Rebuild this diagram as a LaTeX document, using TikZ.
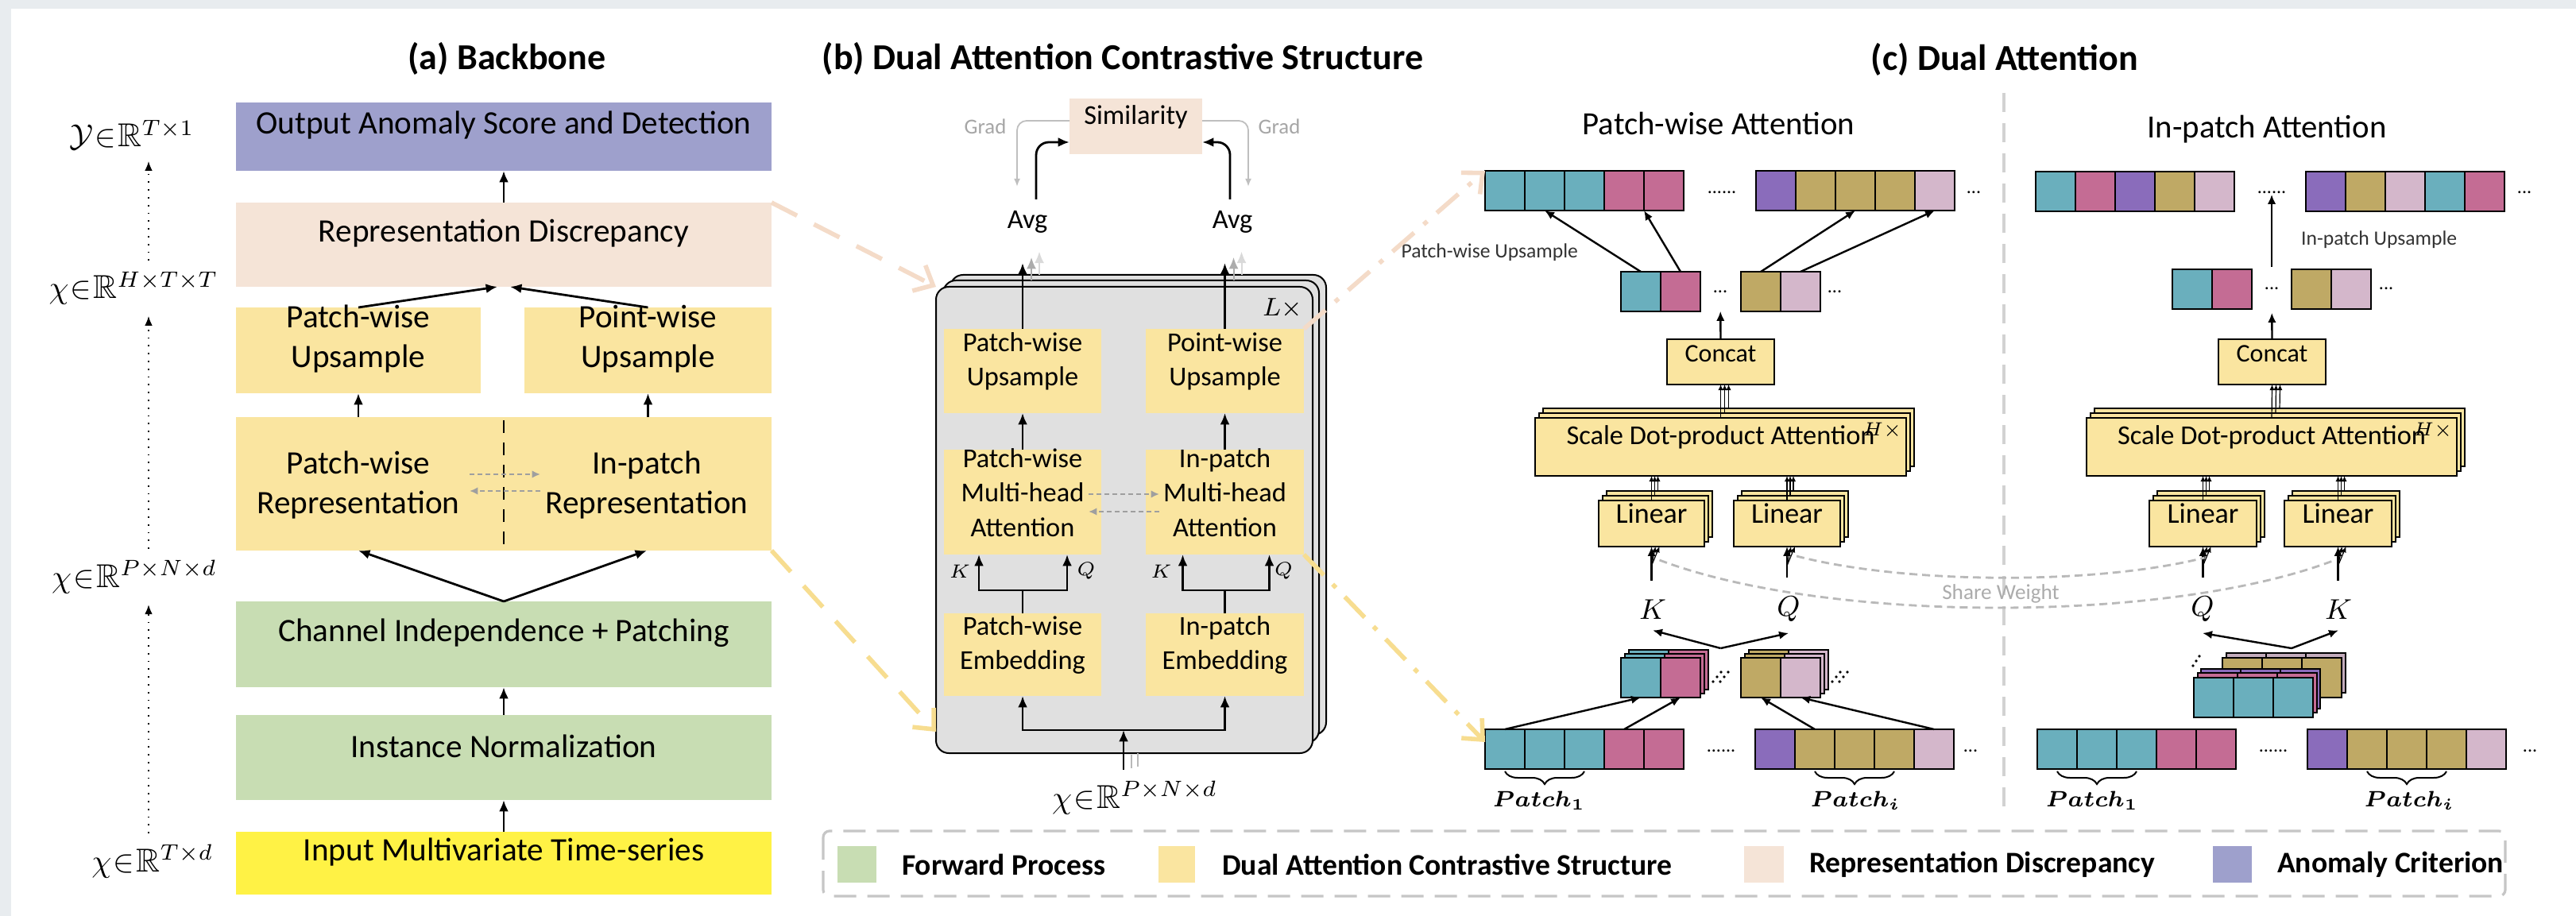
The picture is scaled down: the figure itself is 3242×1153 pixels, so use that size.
\documentclass[tikz,border=0pt]{standalone}
\usepackage{fontspec}
\setmainfont{Carlito}
\usepackage{amsmath}
\usepackage{amssymb}
\usetikzlibrary{positioning,fit,calc,arrows.meta,decorations.pathreplacing}

% palette
\definecolor{fwdgreen}{HTML}{C8DDB3}
\definecolor{dacsyellow}{HTML}{FAE5A0}
\definecolor{discpeach}{HTML}{F5E4D7}
\definecolor{critblue}{HTML}{9EA0CC}
\definecolor{inyellow}{HTML}{FFF245}
\definecolor{layergray}{HTML}{E0E0E0}
\definecolor{framegray}{HTML}{E8ECEF}
\definecolor{cteal}{HTML}{6AAFBD}
\definecolor{cpink}{HTML}{C46C94}
\definecolor{cpurple}{HTML}{8A6CBB}
\definecolor{colive}{HTML}{BFA965}
\definecolor{clilac}{HTML}{D4B7CB}
\definecolor{peachline}{HTML}{F4DBC8}
\definecolor{yellowline}{HTML}{F7DD90}

% fonts
\newcommand{\ttlfont}{\fontsize{11.5}{13}\selectfont\bfseries}
\newcommand{\subfont}{\fontsize{10.2}{12}\selectfont}
\newcommand{\bbfont}{\fontsize{10.3}{12.5}\selectfont}
\newcommand{\dafont}{\fontsize{8.6}{10.8}\selectfont}
\newcommand{\gradfont}{\fontsize{6.7}{8}\selectfont}
\newcommand{\lblfont}{\fontsize{10.4}{12}\selectfont}
\newcommand{\kqsmall}{\fontsize{6.5}{7}\selectfont}
\newcommand{\kqfont}{\fontsize{9}{10}\selectfont}
\newcommand{\upfont}{\fontsize{6.4}{7.5}\selectfont}
\newcommand{\ccfont}{\fontsize{8}{9}\selectfont}
\newcommand{\sdfont}{\fontsize{8.6}{10}\selectfont}
\newcommand{\linfont}{\fontsize{9}{10}\selectfont}
\newcommand{\hxfont}{\fontsize{5.6}{6}\selectfont}
\newcommand{\swfont}{\fontsize{6.8}{8}\selectfont}
\newcommand{\patchfont}{\fontsize{7.2}{8}\selectfont}
\newcommand{\legfont}{\fontsize{9.4}{11}\selectfont\bfseries}
\newcommand{\elpsfont}{\fontsize{6}{6}\selectfont}
% tensor shape labels, set tight
\newcommand{\shp}[2]{$#1\mskip1mu{\in}\mskip1mu\mathbb{R}^{#2}$}

\tikzset{px/.style={x=0.25pt, y=-0.25pt}}
\tikzset{blk/.style={inner sep=0pt, outer sep=0pt, align=center}}
\tikzset{bbox/.style={blk, font=\bbfont}}
\tikzset{dbox/.style={blk, fill=dacsyellow, font=\dafont}}
\tikzset{cbox/.style={blk, draw, line width=0.6pt, fill=dacsyellow}}
\tikzset{layerbox/.style={blk, draw, line width=0.5pt, fill=layergray, rounded corners=4pt}}
\tikzset{pcell/.style={draw, line width=0.5pt, inner sep=0pt, outer sep=0pt, minimum width=12.5pt, minimum height=12.5pt}}
\tikzset{arr/.style={draw, line width=0.7pt, -{Latex[length=3.6pt,width=3pt]}}}
\tikzset{arr2/.style={draw, line width=0.6pt, -{Latex[length=3pt,width=2.6pt]}}}
\tikzset{thinarr/.style={draw, line width=0.3pt, -{Latex[length=1.8pt,width=1.6pt]}}}
\tikzset{dotarr/.style={draw, line width=0.45pt, dotted, -{Latex[length=3pt,width=2.4pt]}}}
\tikzset{swaparr/.style={draw, gray!75, line width=0.6pt, dash pattern=on 1.6pt off 0.9pt, -{Latex[length=2.6pt,width=2.4pt]}}}
\tikzset{gradarr/.style={draw, gray!50, line width=0.45pt, rounded corners=3pt, -{Latex[length=2.5pt,width=2pt]}}}
\tikzset{zoomarr/.style={draw, line width=1.4pt, dash pattern=on 9pt off 6pt, -{Straight Barb[length=5pt,width=9pt]}}}
\tikzset{zoomarr2/.style={draw, line width=1.4pt, dash pattern=on 9pt off 4pt on 1.5pt off 4pt, -{Straight Barb[length=5pt,width=9pt]}}}
\tikzset{elps/.style={inner sep=0pt, font=\elpsfont}}
\tikzset{brc/.style={decorate, decoration={brace, mirror, amplitude=4pt}, line width=0.5pt}}
\tikzset{shareline/.style={draw, gray!55, line width=0.7pt, dash pattern=on 2.5pt off 1.5pt}}
\tikzset{headcount/.style={font=\hxfont, inner sep=0.5pt, anchor=north east}}

% one row of coloured cells, named <name>-0, <name>-1, ...
\newcommand{\cellrow}[4]{%
  \foreach \c [count=\i from 0] in {#4}
    \node[pcell, fill=\c, anchor=north west] (#1-\i) at ({#2+50*\i}, #3) {};
}
% three stacked boxes, the front one named #1
\newcommand{\stackbox}[7]{%
  \node[cbox, fit={(#2+10,#3-12) (#4+10,#5-12)}] (#1-3) {};
  \node[cbox, fit={(#2+5,#3-6) (#4+5,#5-6)}] (#1-2) {};
  \node[cbox, fit={(#2,#3) (#4,#5)}, #6] (#1) {#7};
}
% small diagonal dots behind a stack
\newcommand{\stackdots}[2]{%
  \foreach \r in {0,1}
    \foreach \s in {0,1,2}
      \fill ({#1+9*\r+5*\s}, {#2-6*\s}) circle (0.45pt);
}

\begin{document}
\begin{tikzpicture}[px]
\useasboundingbox (0,0) rectangle (3242,1153);
\fill[framegray] (0,0) rectangle (3242,1153);
\fill[white] (14,11) rectangle (3242,1153);

%% (a) backbone
\node[font=\ttlfont] (ttla) at (638,74) {(a) Backbone};
\node[bbox, fill=critblue, fit={(297,129) (971,215)}] (out) {Output Anomaly Score and Detection};
\node[bbox, fill=discpeach, fit={(297,255) (971,361)}] (disc) {Representation Discrepancy};
\node[bbox, fill=dacsyellow, fit={(297,387) (605,495)}] (pwup) {Patch-wise\\Upsample};
\node[bbox, fill=dacsyellow, fit={(660,387) (971,495)}] (ptup) {Point-wise\\Upsample};
\node[bbox, fill=dacsyellow, fit={(297,525) (971,693)}] (rep) {};
\node[bbox] (pwrep) at (451,611) {Patch-wise\\Representation};
\node[bbox] (iprep) at (814,611) {In-patch\\Representation};
\node[bbox, fill=fwdgreen, fit={(297,757) (971,865)}] (cip) {Channel Independence + Patching};
\node[bbox, fill=fwdgreen, fit={(297,900) (971,1007)}] (inorm) {Instance Normalization};
\node[bbox, fill=inyellow, fit={(297,1047) (971,1126)}] (inp) {Input Multivariate Time-series};
%
\draw[arr] (disc.north) -- (out.south);
\draw[arr] (pwup.north) -- ([xshift=-2pt]disc.south);
\draw[arr] (ptup.north) -- ([xshift=2pt]disc.south);
\draw[arr] (pwup.south |- rep.north) -- (pwup.south);
\draw[arr] (ptup.south |- rep.north) -- (ptup.south);
\draw[line width=0.7pt, dash pattern=on 4pt off 3pt] ([yshift=-1pt]rep.north) -- ([yshift=1.5pt]rep.south);
\draw[swaparr] ($(rep.center)+(-43,-12)$) -- ($(rep.center)+(46,-12)$);
\draw[swaparr] ($(rep.center)+(46,9)$) -- ($(rep.center)+(-43,9)$);
\draw[arr] (cip.north) -- (rep.south -| pwrep);
\draw[arr] (cip.north) -- (rep.south -| iprep);
\draw[arr] (inorm.north) -- (cip.south);
\draw[arr] (inp.north) -- (inorm.south);
% shapes on the left
\node[font=\lblfont] (ly) at (166,170) {\shp{\mathcal{Y}}{T{\times}1}};
\node[font=\lblfont] (lh) at (168,363) {\shp{\chi}{H{\times}T{\times}T}};
\node[font=\lblfont] (lp) at (169,726) {\shp{\chi}{P{\times}N{\times}d}};
\node[font=\lblfont] (lt) at (192,1084) {\shp{\chi}{T{\times}d}};
\coordinate (axis) at (187,0);
\draw[dotarr] (axis |- lt.north) -- (axis |- lp.south);
\draw[dotarr] (axis |- lp.north) -- (axis |- lh.south);
\draw[dotarr] (axis |- lh.north) -- (axis |- ly.south);

%% (b) dual attention contrastive structure
\node[font=\ttlfont] (ttlb) at (1413,74) {(b) Dual Attention Contrastive Structure};
\node[blk, fill=discpeach, font=\dafont, fit={(1346,124) (1513,194)}] (sim) {Similarity};
\node[font=\dafont] (avgl) at (1293,279) {Avg};
\node[font=\dafont] (avgr) at (1551,279) {Avg};
\node[font=\gradfont, text=gray!70] (gradl) at (1240,159) {Grad};
\node[font=\gradfont, text=gray!70] (gradr) at (1610,159) {Grad};
\draw[gradarr, shorten >=4pt] ([yshift=1.75pt]sim.west) -| ([xshift=-3.25pt]avgl.north);
\draw[gradarr, shorten >=4pt] ([yshift=1.75pt]sim.east) -| ([xshift=5pt]avgr.north);
\draw[arr, rounded corners=4pt] ([xshift=2.75pt]avgl.north) |- ([yshift=-5pt]sim.west);
\draw[arr, rounded corners=4pt] ([xshift=-0.75pt]avgr.north) |- ([yshift=-5pt]sim.east);
% L stacked layers
\node[layerbox, fit={(1196,346) (1669,925)}] (layer3) {};
\node[layerbox, fit={(1187,353) (1660,935)}] (layer2) {};
\node[layerbox, fit={(1178,361) (1652,948)}] (layer) {};
\node[font=\fontsize{8.5}{9}\selectfont] (lrep) at (1614,388) {$L\times$};
\node[dbox, fit={(1188,414) (1386,520)}] (bpwup) {Patch-wise\\Upsample};
\node[dbox, fit={(1442,414) (1641,520)}] (bptup) {Point-wise\\Upsample};
\node[dbox, fit={(1188,566) (1386,698)}] (bpwmha) {Patch-wise\\Multi-head\\Attention};
\node[dbox, fit={(1442,566) (1641,698)}] (bipmha) {In-patch\\Multi-head\\Attention};
\node[dbox, fit={(1188,772) (1386,876)}] (bpwemb) {Patch-wise\\Embedding};
\node[dbox, fit={(1442,772) (1641,876)}] (bipemb) {In-patch\\Embedding};
%
\draw[arr, shorten >=6pt] (bpwup.north) -- (bpwup.north |- avgl.south);
\draw[arr, shorten >=6pt] (bptup.north) -- (bptup.north |- avgr.south);
\foreach \b/\a in {bpwup/avgl, bptup/avgr} {
  \draw[arr, gray!65, line width=0.5pt, shorten >=4.2pt] ($(\b.north |- layer2.north)+(11,0)$) -- ($(\b.north |- \a.south)+(11,0)$);
  \draw[arr, gray!30, line width=0.5pt, shorten >=2.4pt] ($(\b.north |- layer3.north)+(21,0)$) -- ($(\b.north |- \a.south)+(21,0)$);
}
\draw[arr] (bpwmha.north) -- (bpwup.south);
\draw[arr] (bipmha.north) -- (bptup.south);
\draw[swaparr] ($(bpwmha.east)+(-16,-10)$) -- ($(bipmha.west)+(17,-10)$);
\draw[swaparr] ($(bipmha.west)+(17,12)$) -- ($(bpwmha.east)+(-16,12)$);
% K / Q forks
\draw[line width=0.7pt] (bpwemb.north) -- ++(0,-29) coordinate (bpwfork);
\draw[arr] (bpwfork) -| ($(bpwmha.south)+(-55,0)$);
\draw[arr] (bpwfork) -| ($(bpwmha.south)+(56,0)$);
\draw[line width=0.7pt] (bipemb.north) -- ++(0,-29) coordinate (bipfork);
\draw[arr] (bipfork) -| ($(bipmha.south)+(-53,0)$);
\draw[arr] (bipfork) -| ($(bipmha.south)+(56,0)$);
\node[font=\kqsmall] at ($(bpwmha.south)+(-79,21)$) {$K$};
\node[font=\kqsmall] at ($(bpwmha.south)+(80,21)$) {$Q$};
\node[font=\kqsmall] at ($(bipmha.south)+(-80,21)$) {$K$};
\node[font=\kqsmall] at ($(bipmha.south)+(74,21)$) {$Q$};
% input
\node[font=\lblfont] (bxin) at (1428,1004) {\shp{\chi}{P{\times}N{\times}d}};
\coordinate (bfork) at (1414,919);
\draw[arr] ($(bxin.north)+(-14,0)$) -- (bfork);
\draw[line width=0.7pt, {Latex[length=3.6pt,width=3pt]}-{Latex[length=3.6pt,width=3pt]}] (bpwemb.south) |- (bfork) -| (bipemb.south);
\draw[gray!55, line width=0.3pt] ($(bfork)+(10,31)$) -- ++(0,17);
\draw[gray!55, line width=0.3pt] ($(bfork)+(18,29)$) -- ++(0,17);

%% (c) dual attention
\node[font=\ttlfont] (ttlc) at (2523,75) {(c) Dual Attention};
\node[font=\subfont] (pwatt) at (2163,155) {Patch-wise Attention};
\node[font=\subfont] (ipatt) at (2853,163) {In-patch Attention};
\draw[gray!35, line width=0.9pt, dash pattern=on 6pt off 3.5pt] (2522,117) -- (2522,1015);

% patch-wise branch
\cellrow{pta}{1869}{215}{cteal,cteal,cteal,cpink,cpink}
\cellrow{ptb}{2210}{215}{cpurple,colive,colive,colive,clilac}
\node[elps] (ptdots) at (2167,242) {......};
\node[elps] at (2484,242) {...};
\cellrow{pma}{2040}{342}{cteal,cpink}
\cellrow{pmb}{2191}{342}{colive,clilac}
\node[elps] (pmdots) at (2165,367) {...};
\node[elps] at (2309,367) {...};
\draw[arr2] (pma-0.north) -- (pta-1.south);
\draw[arr2] (pma-1.north) -- (pta-3.south east);
\draw[arr2] (pmb-0.north) -- (ptb-2.south);
\draw[arr2] (pmb-1.north) -- (ptb-4.south);
\node[font=\upfont, text=black!80, anchor=east] (pwuplbl) at (2000,318) {Patch-wise Upsample};
\node[cbox, font=\ccfont, fit={(2098,427) (2233,484)}] (pwcat) {Concat};
\draw[arr2, shorten >=5.5pt] (pwcat.north) -- (pmdots.south);
\stackbox{pwsd}{1932}{526}{2399}{599}{font=\sdfont}{Scale Dot-product Attention}
\node[headcount] at ($(pwsd.north east)+(-3,3)$) {$H\times$};
\foreach \k in {0,1,2}
  \draw[thinarr] ($(pwsd.north)+(5*\k,-6*\k)$) -- ($(pwcat.south)+(5*\k,0)$);
\stackbox{pwlk}{2012}{630}{2145}{688}{font=\linfont}{Linear}
\stackbox{pwlq}{2182}{630}{2316}{688}{font=\linfont}{Linear}
\foreach \n in {pwlk,pwlq}
  \foreach \k in {0,1,2}
    \draw[thinarr] ($(\n.north)+(4*\k,-6*\k)$) -- ($(\n.north |- pwsd.south)+(4*\k,0)$);
\node[font=\kqfont] (pk) at (2080,767) {$K$};
\node[font=\kqfont] (pq) at (2251,767) {$Q$};
\foreach \l/\n in {pk/pwlk, pq/pwlq} {
  \draw[arr2, shorten <=2.5pt] (\n.south |- \l.north) -- (\n.south);
  \draw[thinarr] ($(\n.south)+(0,24)$) -- ($(\n.south)+(5,0)$);
  \draw[thinarr] ($(\n.south)+(0,24)$) -- ($(\n.south)+(10,0)$);
}
% stacked patches
\cellrow{pcaz}{2050}{818}{cteal,cpink}
\cellrow{pcay}{2045}{823}{cteal,cpink}
\cellrow{pca}{2040}{828}{cteal,cpink}
\cellrow{pcbz}{2201}{818}{colive,clilac}
\cellrow{pcby}{2196}{823}{colive,clilac}
\cellrow{pcb}{2191}{828}{colive,clilac}
\stackdots{2156}{858}
\stackdots{2306}{858}
\coordinate (pfork) at ($(pca-1.north east)!0.5!(pcb-0.north west)+(0,-12)$);
\draw[arr2] (pfork) -- (pk.south);
\draw[arr2] (pfork) -- (pq.south);
\cellrow{pba}{1869}{918}{cteal,cteal,cteal,cpink,cpink}
\cellrow{pbb}{2209}{918}{cpurple,colive,colive,colive,clilac}
\node[elps] at (2166,945) {......};
\node[elps] at (2480,945) {...};
\draw[arr2] (pba-0.north) -- (pca-0.south);
\draw[arr2] (pba-3.north) -- (pca-1.south);
\draw[arr2] (pbb-1.north) -- (pcb-0.south);
\draw[arr2] (pbb-4.north) -- (pcb-1.south);
\draw[brc] ($(pba-0.south)+(0,3)$) -- ($(pba-2.south)+(0,3)$);
\draw[brc] ($(pbb-1.south)+(0,3)$) -- ($(pbb-3.south)+(0,3)$);
\node[font=\patchfont] at (1937,1008) {$\boldsymbol{Patch_1}$};
\node[font=\patchfont] at (2335,1008) {$\boldsymbol{Patch_i}$};

% in-patch branch
\cellrow{ita}{2562}{216}{cteal,cpink,cpurple,colive,clilac}
\cellrow{itb}{2902}{216}{cpurple,colive,clilac,cteal,cpink}
\node[elps] (itdots) at (2859,242) {......};
\node[elps] at (3177,242) {...};
\cellrow{ima}{2734}{339}{cteal,cpink}
\cellrow{imb}{2884}{339}{colive,clilac}
\node[elps] (imdots) at (2859,363) {...};
\node[elps] at (3003,363) {...};
\draw[arr2, shorten <=6pt] (imdots.north) -- (itdots.south);
\node[font=\upfont, text=black!80, anchor=west] (ipuplbl) at (2882,302) {In-patch Upsample};
\node[cbox, font=\ccfont, fit={(2792,427) (2927,484)}] (ipcat) {Concat};
\draw[arr2, shorten >=7pt] (ipcat.north) -- (imdots.south);
\stackbox{ipsd}{2626}{526}{3092}{599}{font=\sdfont}{Scale Dot-product Attention}
\node[headcount] at ($(ipsd.north east)+(-3,3)$) {$H\times$};
\foreach \k in {0,1,2}
  \draw[thinarr] ($(ipsd.north)+(5*\k,-6*\k)$) -- ($(ipcat.south)+(5*\k,0)$);
\stackbox{iplq}{2705}{630}{2840}{688}{font=\linfont}{Linear}
\stackbox{iplk}{2875}{630}{3010}{688}{font=\linfont}{Linear}
\foreach \n in {iplq,iplk}
  \foreach \k in {0,1,2}
    \draw[thinarr] ($(\n.north)+(4*\k,-6*\k)$) -- ($(\n.north |- ipsd.south)+(4*\k,0)$);
\node[font=\kqfont] (iq) at (2772,767) {$Q$};
\node[font=\kqfont] (ik) at (2943,767) {$K$};
\foreach \l/\n in {iq/iplq, ik/iplk} {
  \draw[arr2, shorten <=2.5pt] (\n.south |- \l.north) -- (\n.south);
  \draw[thinarr] ($(\n.south)+(0,24)$) -- ($(\n.south)+(5,0)$);
  \draw[thinarr] ($(\n.south)+(0,24)$) -- ($(\n.south)+(10,0)$);
}
\cellrow{isl}{2802}{822}{clilac!80!gray,clilac!80!gray,clilac!80!gray}
\cellrow{iso}{2797}{828}{colive,colive,colive}
\cellrow{isp}{2770}{842}{cpurple,cpurple,cpurple}
\cellrow{isk}{2766}{847}{cpink,cpink,cpink}
\cellrow{ist}{2761}{853}{cteal,cteal,cteal}
\foreach \s in {0,1,2}
  \fill ({2760+4*\s}, {838-6*\s}) circle (0.45pt);
\coordinate (ifork) at ($(iso-1.north)+(12,-12)$);
\draw[arr2] (ifork) -- (iq.south);
\draw[arr2] (ifork) -- (ik.south);
\cellrow{iba}{2564}{918}{cteal,cteal,cteal,cpink,cpink}
\cellrow{ibb}{2904}{918}{cpurple,colive,colive,colive,clilac}
\node[elps] at (2861,945) {......};
\node[elps] at (3184,945) {...};
\draw[brc] ($(iba-0.south)+(0,3)$) -- ($(iba-2.south)+(0,3)$);
\draw[brc] ($(ibb-1.south)+(0,3)$) -- ($(ibb-3.south)+(0,3)$);
\node[font=\patchfont] at (2633,1008) {$\boldsymbol{Patch_1}$};
\node[font=\patchfont] at (3032,1008) {$\boldsymbol{Patch_i}$};

% weights shared across both branches
\draw[shareline] ($(pwlk.south)+(10,17)$) .. controls (2300,785) and (2730,785) .. ($(iplk.south)+(-4,17)$);
\draw[shareline] ($(pwlq.south)+(12,12)$) .. controls (2400,736) and (2640,736) .. ($(iplq.south)+(2,14)$);
\node[font=\swfont, text=gray!65] (swlbl) at (2518,747) {Share Weight};

%% zoom-in arrows between panels
\draw[zoomarr, peachline] (disc.north east) -- (layer.north west);
\draw[zoomarr, yellowline] (rep.south east) -- ($(layer.south west)+(0,-27)$);
\draw[zoomarr2, peachline] (bptup.north east) -- (pta-0.north west);
\draw[zoomarr2, yellowline] (bipmha.south east) -- ($(pba-0.west)+(0,-9)$);

%% legend
\draw[gray!45, line width=0.8pt, dash pattern=on 7pt off 3.5pt, rounded corners=2pt] (1036,1046) rectangle (3153,1128);
\node[blk, fill=fwdgreen, fit={(1054,1065) (1103,1111)}] (lg1) {};
\node[font=\legfont, right=4.5pt of lg1] (lg1t) {Forward Process};
\node[blk, fill=dacsyellow, fit={(1458,1065) (1504,1111)}] (lg2) {};
\node[font=\legfont, right=5pt of lg2] (lg2t) {Dual Attention Contrastive Structure};
\node[blk, fill=discpeach, fit={(2195,1065) (2245,1111)}] (lg3) {};
\node[font=\legfont, right=4.5pt of lg3] (lg3t) {Representation Discrepancy};
\node[blk, fill=critblue, fit={(2785,1065) (2834,1111)}] (lg4) {};
\node[font=\legfont, right=4.5pt of lg4] (lg4t) {Anomaly Criterion};
\end{tikzpicture}
\end{document}
